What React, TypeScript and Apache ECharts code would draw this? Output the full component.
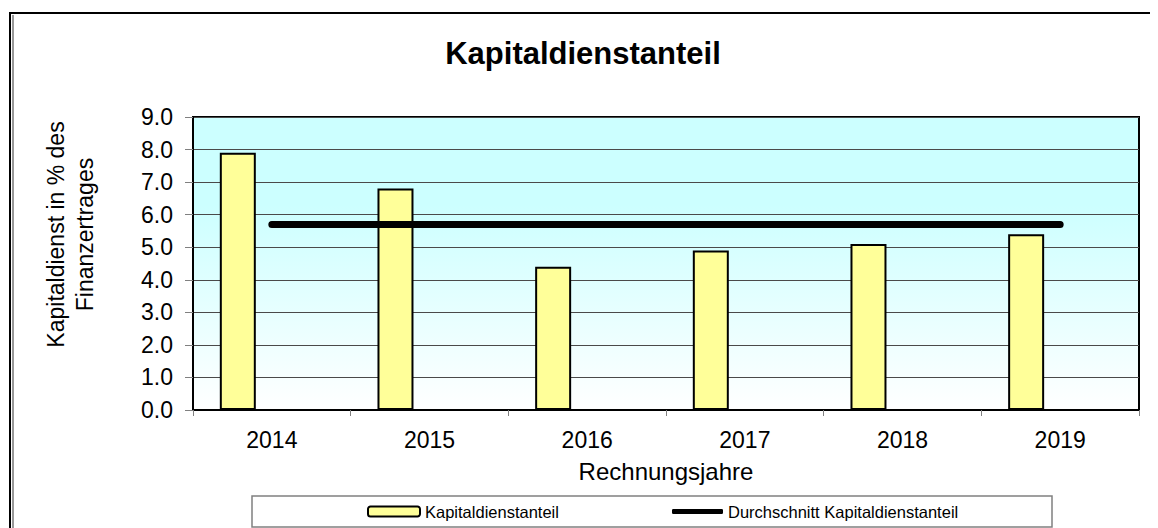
import React, { useEffect, useRef } from "react";
import * as echarts from "echarts";

const years = ["2014", "2015", "2016", "2017", "2018", "2019"];
const shareValues = [7.9, 6.8, 4.4, 4.9, 5.1, 5.4];
const averageValues = [5.7, 5.7, 5.7, 5.7, 5.7, 5.7];
const yTicks = { min: 0, max: 9, interval: 1 };

const FONT = "Liberation Sans, Arial, sans-serif";

export default function App() {
  const ref = useRef<HTMLDivElement>(null);
  useEffect(() => {
    if (!ref.current) return;
    const chart = echarts.init(ref.current, undefined, { renderer: "svg" });
    chart.setOption({
      animation: false,
      backgroundColor: "#ffffff",
      textStyle: { fontFamily: FONT, color: "#000" },
      title: {
        text: "Kapitaldienstanteil",
        left: 575,
        textAlign: "center",
        top: 30,
        padding: 0,
        textStyle: { fontFamily: FONT, fontSize: 31, fontWeight: "bold", color: "#000" },
      },
      grid: {
        left: 185,
        top: 109,
        width: 946,
        height: 293,
        show: true,
        borderColor: "#000",
        borderWidth: 2,
        backgroundColor: new echarts.graphic.LinearGradient(0, 0, 0, 1, [
          { offset: 0, color: "#CCFFFF" },
          { offset: 0.3, color: "#CCFFFF" },
          { offset: 1, color: "#FFFFFF" },
        ]),
      },
      legend: [
        {
          data: ["Kapitaldienstanteil"],
          left: 359,
          top: 495,
          padding: 0,
          itemWidth: 52,
          itemHeight: 10,
          itemGap: 0,
          textStyle: { fontFamily: FONT, fontSize: 16.5, color: "#000" },
        },
        {
          data: [{ name: "Durchschnitt Kapitaldienstanteil", icon: "roundRect" }],
          left: 664,
          top: 495,
          padding: 0,
          itemWidth: 51,
          itemHeight: 5,
          textStyle: { fontFamily: FONT, fontSize: 16.5, color: "#000" },
        },
      ],
      graphic: [
        {
          type: "rect",
          shape: { x: 2, y: 5, width: 1400, height: 800 },
          style: { fill: "none", stroke: "#000", lineWidth: 2 },
          silent: true,
          z: -1,
        },
        {
          type: "line",
          shape: { x1: 5, y1: 7, x2: 5, y2: 600 },
          style: { stroke: "#999", lineWidth: 2 },
          silent: true,
        },
        {
          type: "rect",
          shape: { x: 244, y: 488, width: 800, height: 31 },
          style: { fill: "#fff", stroke: "#808080", lineWidth: 1.5 },
          silent: true,
          z: -1,
        },
      ],
      xAxis: {
        type: "category",
        data: years,
        boundaryGap: true,
        name: "Rechnungsjahre",
        nameLocation: "middle",
        nameGap: 49,
        nameTextStyle: { fontFamily: FONT, fontSize: 24, color: "#000" },
        axisLine: { lineStyle: { color: "#000", width: 2 } },
        axisTick: { show: true, length: 6, lineStyle: { color: "#808080", width: 1 } },
        axisLabel: { fontFamily: FONT, fontSize: 23, color: "#000", margin: 18 },
        splitLine: { show: false },
      },
      yAxis: {
        type: "value",
        min: yTicks.min,
        max: yTicks.max,
        interval: yTicks.interval,
        name: "Kapitaldienst in % des\nFinanzertrages",
        nameLocation: "middle",
        nameRotate: 90,
        nameGap: 94,
        nameTextStyle: {
          fontFamily: FONT,
          fontSize: 23,
          color: "#000",
          lineHeight: 29,
          padding: [0, 0, 0, 58],
        },
        axisLine: { show: true, lineStyle: { color: "#000", width: 2 } },
        axisTick: { show: true, length: 8, lineStyle: { color: "#808080", width: 1 } },
        axisLabel: {
          fontFamily: FONT,
          fontSize: 23,
          color: "#000",
          margin: 20,
          formatter: (v: number) => v.toFixed(1),
        },
        splitLine: { show: true, lineStyle: { color: "#4a4a4a", width: 1 } },
      },
      series: [
        {
          name: "Kapitaldienstanteil",
          type: "bar",
          data: shareValues,
          barWidth: 36,
          barGap: "89%",
          itemStyle: { color: "#FFFF99", borderColor: "#000", borderWidth: 2 },
          z: 2,
        },
        {
          name: "spacer",
          type: "bar",
          data: years.map(() => "-"),
          barWidth: 36,
          itemStyle: { color: "transparent" },
          silent: true,
        },
        {
          name: "Durchschnitt Kapitaldienstanteil",
          type: "line",
          data: averageValues,
          showSymbol: false,
          symbol: "none",
          lineStyle: { color: "#000", width: 7, cap: "round" },
          itemStyle: { color: "#000" },
          z: 3,
        },
      ],
    });
    return () => chart.dispose();
  }, []);
  return <div ref={ref} style={{ width: 1150, height: 520 }} />;
}
